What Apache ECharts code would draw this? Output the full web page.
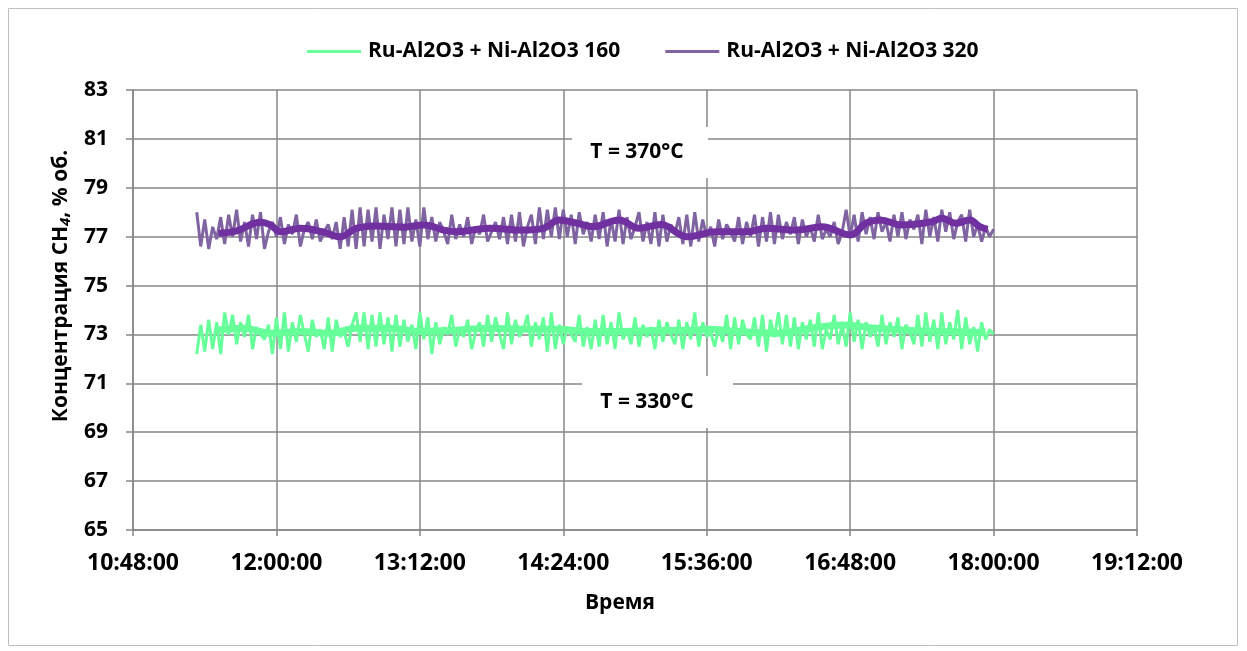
<!DOCTYPE html>
<html><head><meta charset="utf-8">
<script src="https://cdn.jsdelivr.net/npm/echarts@6/dist/echarts.min.js"></script>
<style>html,body{margin:0;padding:0;background:#fff}#c{width:1247px;height:651px}</style>
</head><body><div id="c"></div>
<script>
// ---- data ----
const seriesNames = ['Ru-Al2O3 + Ni-Al2O3 160', 'Ru-Al2O3 + Ni-Al2O3 320'];
const startTime = '11:20';
const stepMinutes = 2;
const ru160 = [
72.2,73.4,72.3,73.6,72.4,73.5,72.2,73.9,73.0,73.8,
72.6,73.5,72.9,73.8,72.4,73.3,73.0,72.8,73.4,72.2,
73.7,72.4,73.9,72.3,73.5,72.7,73.8,73.0,72.3,73.6,
72.9,73.2,72.4,73.7,72.3,73.6,72.9,73.1,72.5,73.4,
73.9,72.7,73.9,72.4,73.8,72.5,73.9,72.6,73.7,72.3,
73.8,72.5,73.6,72.7,73.4,72.4,73.9,72.8,73.7,72.2,
73.5,72.6,73.3,73.0,73.8,72.5,73.2,72.9,73.6,72.4,
73.1,73.5,72.5,73.8,72.7,73.7,73.0,72.4,73.9,72.6,
73.6,72.9,73.2,73.8,72.5,73.5,72.8,73.7,72.3,73.9,
72.4,73.4,72.6,73.3,73.0,72.7,73.8,72.5,73.3,72.4,
73.6,72.5,73.8,72.6,73.5,72.4,73.9,72.8,73.2,72.6,
73.7,72.5,73.4,72.9,73.3,72.4,73.6,72.7,73.5,73.0,
72.6,73.6,72.4,73.5,72.8,73.9,72.5,73.5,72.9,73.1,
72.5,73.3,72.7,73.8,72.4,73.7,72.6,73.6,73.0,72.8,
73.7,72.5,73.8,72.3,73.6,72.9,73.9,72.6,73.8,72.5,
73.7,72.4,73.5,72.8,73.6,72.5,73.9,72.4,73.2,72.8,
73.8,72.6,73.4,72.5,73.9,72.7,73.6,72.4,73.5,72.9,
73.3,72.5,73.8,72.6,73.5,72.9,73.7,72.4,73.4,73.1,
72.6,73.8,72.5,73.9,72.7,73.6,72.4,73.9,72.6,73.5,
72.8,74.0,72.4,73.7,72.6,73.3,72.3,73.5,72.8,73.2,
73.0];
const ru320 = [
78.0,76.6,77.7,76.5,77.4,76.9,77.8,76.7,77.9,77.0,
78.1,76.8,77.6,76.6,77.9,76.9,78.0,76.5,77.2,77.6,
77.0,77.8,76.7,77.5,77.1,77.9,76.6,77.3,77.6,76.9,
77.7,76.8,77.2,77.5,76.9,77.6,76.5,77.8,76.6,78.1,
76.5,78.2,76.6,78.1,76.8,78.2,76.5,77.9,76.9,78.2,
76.6,78.1,76.7,78.2,76.8,77.7,76.6,78.2,76.9,77.8,
76.8,77.6,77.2,76.7,77.9,76.9,77.5,77.0,77.8,76.7,
77.4,77.1,77.9,76.8,77.2,77.6,76.9,77.8,76.7,77.9,
76.8,78.0,76.6,77.4,77.9,76.7,78.2,76.9,78.1,77.0,
78.2,76.9,78.1,77.0,77.9,76.7,78.0,77.1,77.6,76.8,
77.9,76.9,78.0,76.6,77.7,76.8,78.1,76.7,77.8,76.9,
77.4,78.0,76.8,77.6,76.7,78.0,76.6,77.9,76.8,77.5,
77.1,77.8,76.7,77.9,76.6,78.0,76.8,77.7,77.0,77.4,
76.6,77.7,76.9,77.5,77.2,76.8,77.8,76.7,77.6,77.0,
77.9,76.6,77.8,76.8,78.0,76.7,77.9,76.9,77.6,77.1,
77.8,76.7,77.7,77.0,77.4,76.8,77.9,76.9,77.3,77.0,
77.6,76.7,77.2,78.1,77.0,77.9,76.8,78.0,77.1,77.8,
76.9,78.0,77.2,77.6,76.8,77.9,77.0,78.0,76.9,77.7,
77.3,77.9,76.7,78.1,77.0,77.8,76.8,78.1,77.2,78.0,
76.9,77.6,77.9,76.8,78.1,77.0,77.5,76.8,77.4,77.0,
77.3];
// moving-average trend lines
const trend160Times = ['11:31','11:43','11:58','12:12','12:27','12:40','12:57','13:12','13:27','13:47','14:04','14:21','14:37','14:54','15:11','15:27','15:37','15:52','16:11','16:28','16:44','17:01','17:18','17:34','17:56'];
const trend160 = [73.18,73.25,73.05,73.12,73.05,73.25,73.25,73.12,73.16,73.25,73.21,73.21,73.12,73.12,73.16,73.16,73.21,73.12,73.05,73.25,73.39,73.25,73.16,73.12,73.08];
const trend320Times = ['11:31','11:40','11:52','11:57','12:02','12:12','12:23','12:32','12:40','12:50','13:04','13:14','13:24','13:30','13:47','14:04','14:14','14:22','14:31','14:39','14:52','15:02','15:13','15:26','15:41','15:56','16:06','16:21','16:34','16:48','16:56','17:03','17:14','17:29','17:34','17:41','17:48','17:53','17:57'];
const trend320 = [77.14,77.24,77.59,77.48,77.20,77.34,77.20,77.00,77.34,77.44,77.39,77.48,77.27,77.20,77.34,77.27,77.34,77.68,77.55,77.41,77.68,77.34,77.50,77.00,77.20,77.20,77.34,77.27,77.41,77.07,77.55,77.68,77.48,77.61,77.75,77.55,77.68,77.41,77.30];
const xMin = '10:48', xMax = '19:12', xStepMinutes = 72;
const yMin = 65, yMax = 83, yStep = 2;
const yTitleParts = ['Концентрация CH', '4', ', % об.'];
const xTitle = 'Время';
const notes = ['T = 370°C', 'T = 330°C'];

// ---- helpers ----
function toMin(s){ const [h,m] = s.split(':').map(Number); return h*60+m; }
function fmt(v){ const h = Math.floor(v/60), m = Math.round(v%60); return h + ':' + String(m).padStart(2,'0') + ':00'; }
function raw(vals){ const t0 = toMin(startTime); return vals.map((v,i)=>[t0 + i*stepMinutes, v]); }
function pairs(times, vals){ return times.map((t,i)=>[toMin(t), vals[i]]); }

const FONT = '"Open Sans", sans-serif';
const grey = '#878787';
const chart = echarts.init(document.getElementById('c'), null, {renderer:'canvas'});
chart.setOption({
  animation: false,
  backgroundColor: '#fff',
  textStyle: {fontFamily: FONT},
  grid: {left: 133, right: 110, top: 90, bottom: 121, containLabel: false},
  legend: {
    top: 36, left: 302, itemGap: 45, itemWidth: 54, itemHeight: 3, icon: 'rect',
    data: seriesNames,
    textStyle: {fontFamily: FONT, fontWeight: 'bold', fontSize: 21, color: '#000', padding: [0,0,0,2]}
  },
  xAxis: {
    type: 'value', min: toMin(xMin), max: toMin(xMax), interval: xStepMinutes,
    name: xTitle, nameLocation: 'middle', nameGap: 63,
    nameTextStyle: {fontFamily: FONT, fontWeight: 'bold', fontSize: 21, color: '#000', padding: [0,30,0,0]},
    axisLine: {show: true, lineStyle: {color: grey, width: 1.5}},
    axisTick: {show: true, length: 6, lineStyle: {color: grey, width: 1.5}},
    axisLabel: {formatter: fmt, fontFamily: FONT, fontWeight: 'bold', fontSize: 23, color: '#000', margin: 22},
    splitLine: {show: true, lineStyle: {color: grey, width: 1.5}}
  },
  yAxis: {
    type: 'value', min: yMin, max: yMax, interval: yStep,
    name: '{a|' + yTitleParts[0] + '}{s|' + yTitleParts[1] + '}{a|' + yTitleParts[2] + '}',
    nameLocation: 'middle', nameGap: 58, nameRotate: 90,
    nameTextStyle: {padding: [0,0,0,48], rich: {
      a: {fontFamily: FONT, fontWeight: 'bold', fontSize: 21, color: '#000'},
      s: {fontFamily: FONT, fontWeight: 'bold', fontStyle: 'italic', fontSize: 15, color: '#000', verticalAlign: 'bottom', padding: [9,0,0,0]}
    }},
    axisLine: {show: true, lineStyle: {color: grey, width: 1.5}},
    axisTick: {show: true, length: 7, lineStyle: {color: grey, width: 1.5}},
    axisLabel: {fontFamily: FONT, fontWeight: 'bold', fontSize: 21, color: '#000', margin: 25},
    splitLine: {show: true, lineStyle: {color: grey, width: 1.5}}
  },
  series: [
    {name: seriesNames[1], type: 'line', data: raw(ru320), showSymbol: false, symbol: 'none',
     lineStyle: {color: '#8064A2', width: 3}, itemStyle: {color: '#8064A2'}, z: 2},
    {name: 'trend320', type: 'line', data: pairs(trend320Times, trend320), showSymbol: false, symbol: 'none', smooth: 0.4,
     lineStyle: {color: '#7030A0', width: 7}, itemStyle: {color: '#7030A0'}, z: 3},
    {name: seriesNames[0], type: 'line', data: raw(ru160), showSymbol: false, symbol: 'none',
     lineStyle: {color: '#66FF99', width: 3}, itemStyle: {color: '#66FF99'}, z: 2},
    {name: 'trend160', type: 'line', data: pairs(trend160Times, trend160), showSymbol: false, symbol: 'none', smooth: 0.4,
     lineStyle: {color: '#66FF99', width: 7}, itemStyle: {color: '#66FF99'}, z: 3}
  ],
  graphic: [
    {type: 'rect', shape: {x: 8.5, y: 8.5, width: 1229, height: 637}, style: {fill: 'none', stroke: '#bfbfbf', lineWidth: 1}, silent: true},
    {type: 'rect', shape: {x: 572, y: 127, width: 136, height: 51}, style: {fill: '#fff'}, z: 10},
    {type: 'text', x: 637, y: 152, style: {text: notes[0], fontFamily: FONT, fontWeight: 'bold', fontSize: 21, fill: '#000', align: 'center', verticalAlign: 'middle'}, z: 11},
    {type: 'rect', shape: {x: 582, y: 376, width: 151, height: 52}, style: {fill: '#fff'}, z: 10},
    {type: 'text', x: 647, y: 402, style: {text: notes[1], fontFamily: FONT, fontWeight: 'bold', fontSize: 21, fill: '#000', align: 'center', verticalAlign: 'middle'}, z: 11}
  ]
});
</script></body></html>
